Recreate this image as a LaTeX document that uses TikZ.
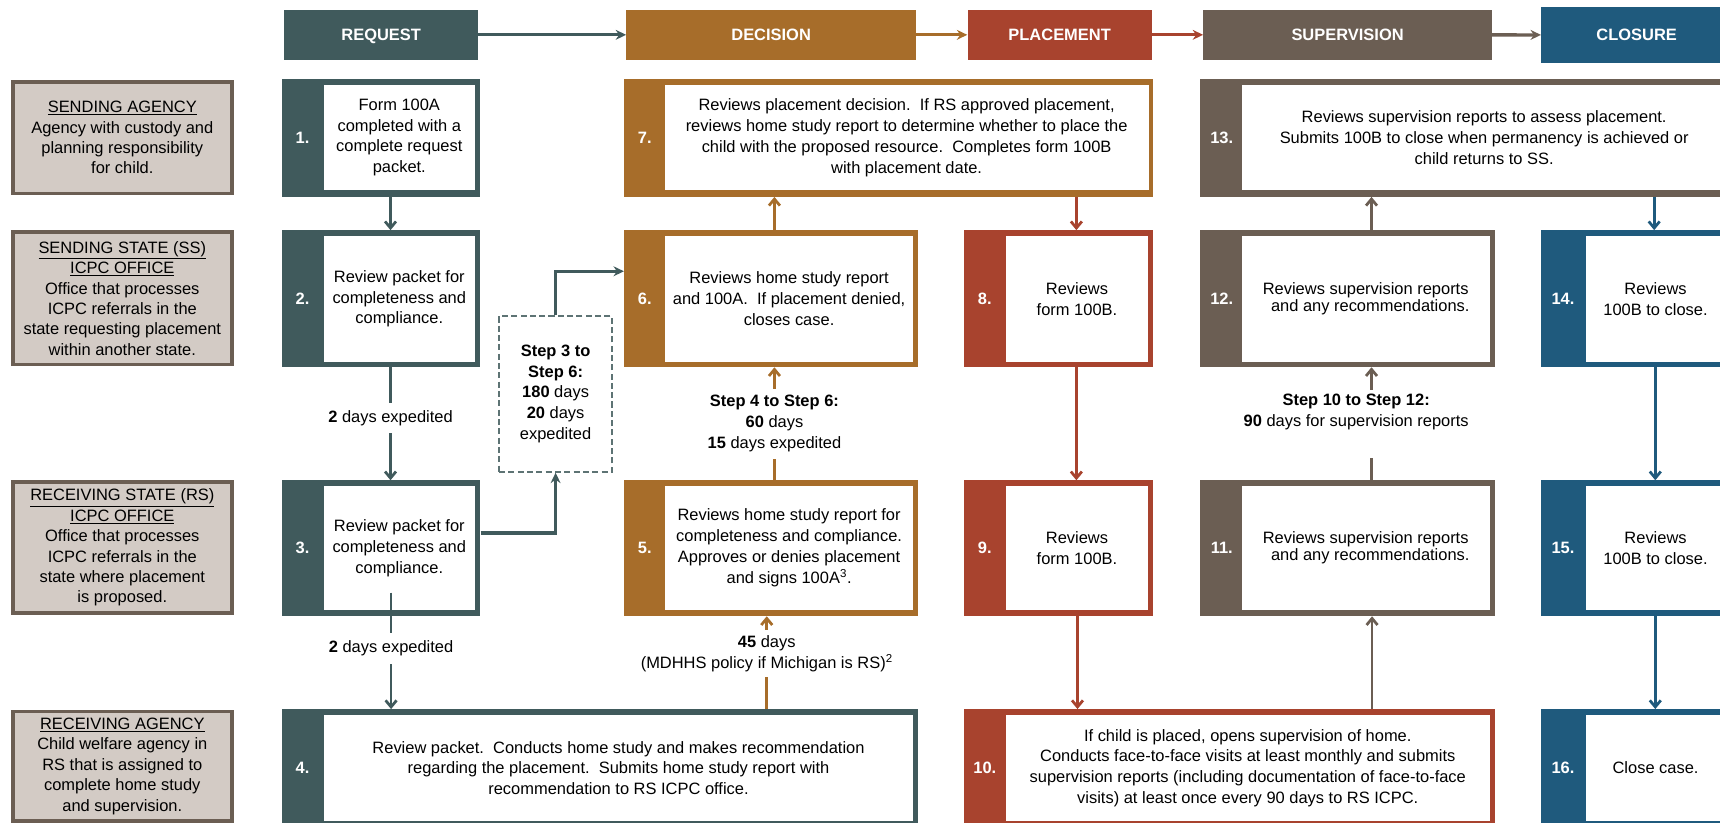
\documentclass[tikz,border=0pt]{standalone}
\usepackage{fontspec}
\setmainfont{Liberation Sans}
\usetikzlibrary{arrows.meta, positioning}

\definecolor{reqcol}{HTML}{405A5C}
\definecolor{deccol}{HTML}{A76D2A}
\definecolor{plccol}{HTML}{A8432E}
\definecolor{supcol}{HTML}{6B5E53}
\definecolor{clocol}{HTML}{1F5A7D}
\definecolor{rolefill}{HTML}{D3CBC5}

\begin{document}
\begin{tikzpicture}[
        x=1pt, y=-1pt,
        font=\fontsize{15}{19}\selectfont,
        phase/.style={rectangle, inner sep=0pt, minimum height=45.5pt, text height=11pt, text depth=0pt, text=white, font=\fontsize{15}{19}\selectfont\bfseries},
        role/.style={rectangle, fill=rolefill, draw=supcol, line width=3.3pt, inner sep=0pt, minimum width=199.7pt, align=center, font=\fontsize{15}{18.6}\selectfont},
        frame/.style={rectangle, inner sep=0pt},
        inbox/.style={rectangle, fill=white, inner sep=0pt, align=center},
        num/.style={text=white, font=\fontsize{15}{19}\selectfont\bfseries, inner sep=0pt},
        dashbox/.style={rectangle, fill=white, draw=reqcol!85, dashed, dash pattern=on 5.5pt off 3pt, line width=1.8pt, inner sep=0pt, align=center},
        timing/.style={fill=white, text=black, align=center, inner xsep=2pt, inner ysep=7pt},
        arrow/.style={-{Straight Barb[length=6pt,width=10pt]}, line width=2.5pt},
        flow/.style={-{Stealth[length=9.5pt,width=9pt]}, line width=3pt}
    ]
        \useasboundingbox (0,0) rectangle (1568,750);
        \clip (0,0) rectangle (1568,750);

        % phase headers
        \node[phase, fill=reqcol, minimum width=177pt] (hreq) at (347.5,31.75) {REQUEST};
        \node[phase, fill=deccol, minimum width=264pt] (hdec) at (703,31.75) {DECISION};
        \node[phase, fill=plccol, minimum width=168pt] (hplc) at (966,31.75) {PLACEMENT};
        \node[phase, fill=supcol, minimum width=263pt] (hsup) at (1228.5,31.75) {SUPERVISION};
        \node[phase, fill=clocol, minimum width=174pt, minimum height=50.3pt] (hclo) at (1492,31.85) {CLOSURE};

        \draw[flow, reqcol] (hreq) -- (hdec);
        \draw[flow, deccol] (hdec) -- (hplc);
        \draw[flow, plccol] (hplc) -- (hsup);
        \draw[flow, supcol] (hsup) -- (hclo);

        % roles
        \node[role, minimum height=101.7pt] (sa) at (111.5,125.5) {\underline{SENDING AGENCY}\\Agency with custody and\\planning responsibility\\for child.};
        \node[role, minimum height=120.7pt] (ss) at (111.5,272) {\underline{SENDING STATE (SS)}\\\underline{ICPC OFFICE}\\Office that processes\\ICPC referrals in the\\state requesting placement\\within another state.};
        \node[role, minimum height=119.2pt] (rs) at (111.5,499.25) {\underline{RECEIVING STATE (RS)}\\\underline{ICPC OFFICE}\\Office that processes\\ICPC referrals in the\\state where placement\\is proposed.};
        \node[role, minimum height=99.7pt] (ra) at (111.5,698.5) {\underline{RECEIVING AGENCY}\\Child welfare agency in\\RS that is assigned to\\complete home study\\and supervision.};

        % request column
        \node[frame, fill=reqcol, minimum width=181pt, minimum height=107pt] (s1) at (347.5,125.8) {};
        \node[inbox, minimum width=138pt, minimum height=95.7pt] (b1) at (364,125.35) {Form 100A\\completed with a\\complete request\\packet.};
        \node[num] (n1) at ([xshift=19pt]s1.west) {1.};
        \node[frame, fill=reqcol, minimum width=181pt, minimum height=124.6pt] (s2) at (347.5,272.3) {};
        \node[inbox, minimum width=138pt, minimum height=114.7pt] (b2) at (364,272.35) {Review packet for\\completeness and\\compliance.};
        \node[num] (n2) at ([xshift=19pt]s2.west) {2.};
        \node[frame, fill=reqcol, minimum width=181pt, minimum height=123.6pt] (s3) at (347.5,499.8) {};
        \node[inbox, minimum width=138pt, minimum height=113pt] (b3) at (364,499.5) {Review packet for\\completeness and\\compliance.};
        \node[num] (n3) at ([xshift=19pt]s3.west) {3.};
        \node[frame, fill=reqcol, minimum width=580pt, minimum height=107.4pt] (s4) at (547,700.3) {};
        \node[inbox, minimum width=537.7pt, minimum height=96.7pt] (b4) at (563.85,700.15) {Review packet.\ \ Conducts home study and makes recommendation\\regarding the placement.\ \ Submits home study report with\\recommendation to RS ICPC office.};
        \node[num] (n4) at ([xshift=19pt]s4.west) {4.};

        \node[dashbox, minimum width=103pt, minimum height=142pt] (dbox) at (506.5,359) {\textbf{Step 3 to}\\\textbf{Step 6:}\\\textbf{180} days\\\textbf{20} days\\expedited};

        % decision column
        \node[frame, fill=deccol, minimum width=268pt, minimum height=123.6pt] (s5) at (703,499.8) {};
        \node[inbox, minimum width=226.7pt, minimum height=113pt] (b5) at (719.35,499.5) {Reviews home study report for\\completeness and compliance.\\Approves or denies placement\\and signs 100A\textsuperscript{3}.};
        \node[num] (n5) at ([xshift=19pt]s5.west) {5.};
        \node[frame, fill=deccol, minimum width=268pt, minimum height=124.6pt] (s6) at (703,272.3) {};
        \node[inbox, minimum width=226.7pt, minimum height=114.7pt] (b6) at (719.35,272.35) {Reviews home study report\\and 100A.\ \ If placement denied,\\closes case.};
        \node[num] (n6) at ([xshift=19pt]s6.west) {6.};
        \node[frame, fill=deccol, minimum width=482.5pt, minimum height=107pt] (s7) at (810.25,125.8) {};
        \node[inbox, minimum width=441pt, minimum height=95.7pt] (b7) at (826.5,125.35) {Reviews placement decision.\ \ If RS approved placement,\\reviews home study report to determine whether to place the\\child with the proposed resource.\ \ Completes form 100B\\with placement date.};
        \node[num] (n7) at ([xshift=19pt]s7.west) {7.};

        % placement column
        \node[frame, fill=plccol, minimum width=172.5pt, minimum height=124.6pt] (s8) at (965.25,272.3) {};
        \node[inbox, minimum width=129.6pt, minimum height=114.7pt] (b8) at (981.8,272.35) {Reviews\\form 100B.};
        \node[num] (n8) at ([xshift=19pt]s8.west) {8.};
        \node[frame, fill=plccol, minimum width=172.5pt, minimum height=123.6pt] (s9) at (965.25,499.8) {};
        \node[inbox, minimum width=129.6pt, minimum height=113pt] (b9) at (981.8,499.5) {Reviews\\form 100B.};
        \node[num] (n9) at ([xshift=19pt]s9.west) {9.};
        \node[frame, fill=plccol, minimum width=483.6pt, minimum height=107.4pt] (s10) at (1120.8,700.3) {};
        \node[inbox, minimum width=441pt, minimum height=96.7pt] (b10) at (1137.5,700.15) {If child is placed, opens supervision of home.\\Conducts face-to-face visits at least monthly and submits\\supervision reports (including documentation of face-to-face\\visits) at least once every 90 days to RS ICPC.};
        \node[num] (n10) at ([xshift=19pt]s10.west) {10.};

        % supervision column
        \node[frame, fill=supcol, minimum width=268.6pt, minimum height=123.6pt] (s11) at (1228.3,499.8) {};
        \node[inbox, minimum width=226pt, minimum height=113pt] (b11) at (1245,499.5) {Reviews supervision reports\\[-3pt]\ \ and any recommendations.};
        \node[num] (n11) at ([xshift=20pt]s11.west) {11.};
        \node[frame, fill=supcol, minimum width=268.6pt, minimum height=124.6pt] (s12) at (1228.3,272.3) {};
        \node[inbox, minimum width=226pt, minimum height=114.7pt] (b12) at (1245,272.35) {Reviews supervision reports\\[-3pt]\ \ and any recommendations.};
        \node[num] (n12) at ([xshift=20pt]s12.west) {12.};
        \node[frame, fill=supcol, minimum width=485pt, minimum height=107pt] (s13) at (1336.5,125.8) {};
        \node[inbox, minimum width=442pt, minimum height=95.7pt] (b13) at (1353,125.35) {Reviews supervision reports to assess placement.\\Submits 100B to close when permanency is achieved or\\child returns to SS.};
        \node[num] (n13) at ([xshift=20pt]s13.west) {13.};

        % closure column
        \node[frame, fill=clocol, minimum width=173pt, minimum height=124.6pt] (s14) at (1491.5,272.3) {};
        \node[inbox, minimum width=127.5pt, minimum height=114.7pt] (b14) at (1509.25,272.35) {Reviews\\100B to close.};
        \node[num] (n14) at ([xshift=20pt]s14.west) {14.};
        \node[frame, fill=clocol, minimum width=173pt, minimum height=123.6pt] (s15) at (1491.5,499.8) {};
        \node[inbox, minimum width=127.5pt, minimum height=113pt] (b15) at (1509.25,499.5) {Reviews\\100B to close.};
        \node[num] (n15) at ([xshift=20pt]s15.west) {15.};
        \node[frame, fill=clocol, minimum width=173pt, minimum height=107.4pt] (s16) at (1491.5,700.3) {};
        \node[inbox, minimum width=127.5pt, minimum height=96.7pt] (b16) at (1509.25,700.15) {Close case.};
        \node[num] (n16) at ([xshift=20pt]s16.west) {16.};

        % connectors
        \draw[arrow, reqcol] ([xshift=8.5pt]s1.south) -- ([xshift=8.5pt]s2.north);
        \draw[arrow, reqcol] ([xshift=8.5pt]s2.south) -- node[timing, pos=0.45] {\textbf{2} days expedited} ([xshift=8.5pt]s3.north);
        \draw[arrow, reqcol] ([xshift=9pt, yshift=21.5pt]s3.south) -- node[timing, pos=0.48] {\textbf{2} days expedited} ([xshift=9pt]s3.south |- s4.north);
        \draw[flow, reqcol] ([yshift=14pt]s3.east) -| (dbox.south);
        \draw[flow, reqcol] (dbox.north) |- ([yshift=25pt]s6.west);

        \draw[arrow, deccol] ([xshift=-4pt]s5.south |- s4.north) -- node[timing, pos=0.6, inner ysep=5pt] {\textbf{45} days\\(MDHHS policy if Michigan is RS)\textsuperscript{2}} ([xshift=-4pt]s5.south);
        \draw[arrow, deccol] ([xshift=3pt]s5.north) -- node[timing, inner ysep=6pt] {\textbf{Step 4 to Step 6:}\\\textbf{60} days\\\textbf{15} days expedited} ([xshift=3pt]s6.south);
        \draw[arrow, deccol] ([xshift=3pt]s6.north) -- ([xshift=3pt]s6.north |- s7.south);

        \draw[arrow, plccol] ([xshift=16pt]s8.north |- s7.south) -- ([xshift=16pt]s8.north);
        \draw[arrow, plccol] ([xshift=16pt]s8.south) -- ([xshift=16pt]s9.north);
        \draw[arrow, plccol] ([xshift=17pt]s9.south) -- ([xshift=17pt]s9.south |- s10.north);

        \draw[arrow, supcol] ([xshift=22.5pt]s11.south |- s10.north) -- ([xshift=22.5pt]s11.south);
        \draw[arrow, supcol] ([xshift=22pt]s11.north) -- node[timing, xshift=-14pt, inner ysep=4pt] {\textbf{Step 10 to Step 12:}\\\textbf{90} days for supervision reports\\\strut} ([xshift=22pt]s12.south);
        \draw[arrow, supcol] ([xshift=22pt]s12.north) -- ([xshift=22pt]s12.north |- s13.south);

        \draw[arrow, clocol] ([xshift=16.5pt]s14.north |- s13.south) -- ([xshift=16.5pt]s14.north);
        \draw[arrow, clocol] ([xshift=17.5pt]s14.south) -- ([xshift=17.5pt]s15.north);
        \draw[arrow, clocol] ([xshift=17.5pt]s15.south) -- ([xshift=17.5pt]s16.north);
    \end{tikzpicture}
\end{document}
